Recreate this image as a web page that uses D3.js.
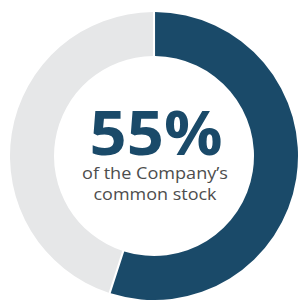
<!DOCTYPE html>
<html>
<head>
<meta charset="utf-8">
<script src="https://cdn.jsdelivr.net/npm/d3@7"></script>
<style>
  body { margin: 0; background: #fff; }
</style>
</head>
<body>
<div id="chart"></div>
<script>
// Data
const segments = ["Company", "Other"];
const shares = [55, 45];
const colors = ["#1a4a69", "#e6e7e8"];
const headline = "55%";
const captionLines = ["of the Company\u2019s", "common stock"];

const width = 300, height = 300;
const cx = 154, cy = 156;
const outerR = 144, innerR = 100;

const svg = d3.select("#chart")
    .append("svg")
    .attr("width", width)
    .attr("height", height);

const g = svg.append("g")
    .attr("transform", `translate(${cx},${cy})`);

// Pie keeps data order, starting at 12 o'clock going clockwise
const pie = d3.pie().sort(null).padAngle(0.012);
const arc = d3.arc().innerRadius(innerR).outerRadius(outerR);

g.selectAll("path")
    .data(pie(shares))
    .join("path")
    .attr("d", arc)
    .attr("fill", (d, i) => colors[i]);

// Centre label (stretched a bit to get the wide geometric look)
g.append("text")
    .attr("x", 2)
    .attr("y", -1)
    .attr("text-anchor", "middle")
    .attr("textLength", 133)
    .attr("lengthAdjust", "spacingAndGlyphs")
    .style("font-family", "'Open Sans', sans-serif")
    .style("font-weight", 700)
    .style("font-size", "60px")
    .attr("fill", colors[0])
    .text(headline);

const captionWidths = [146, 123];
g.selectAll(".caption")
    .data(captionLines)
    .join("text")
    .attr("class", "caption")
    .attr("x", 1)
    .attr("y", (d, i) => 23 + i * 21)
    .attr("text-anchor", "middle")
    .attr("textLength", (d, i) => captionWidths[i])
    .attr("lengthAdjust", "spacingAndGlyphs")
    .style("font-family", "'Open Sans', sans-serif")
    .style("font-size", "17px")
    .attr("fill", "#4d4d4d")
    .text(d => d);
</script>
</body>
</html>
